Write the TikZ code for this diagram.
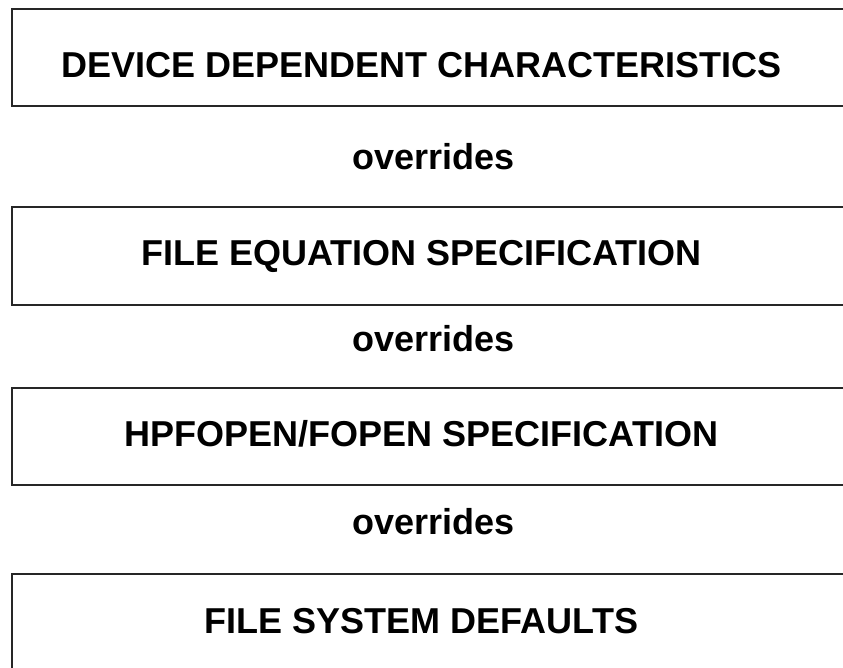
\documentclass[tikz,border=0pt]{standalone}
\usepackage{fontspec}
\setmainfont{Liberation Sans}
\begin{document}
\begin{tikzpicture}[x=1pt,y=-1pt,
  boxline/.style={draw=black!85,line width=1.3pt},
  label/.style={font=\fontsize{36}{42}\selectfont\bfseries,inner sep=0pt,anchor=base},
  verb/.style={font=\fontsize{36}{42}\selectfont\bfseries,inner sep=0pt,anchor=base}]
\useasboundingbox (0,0) rectangle (843,667);
\clip (0,0) rectangle (843,667);
\draw[boxline] (12,9) rectangle (870,106);
\draw[boxline] (12,207) rectangle (870,305);
\draw[boxline] (12,388) rectangle (870,485);
\draw[boxline] (12,574) rectangle (870,700);
\node[label] (t1) at (421.5,77) {DEVICE DEPENDENT CHARACTERISTICS};
\node[label] (t2) at (421.5,265) {FILE EQUATION SPECIFICATION};
\node[label] (t3) at (421.5,446.5) {HPFOPEN/FOPEN SPECIFICATION};
\node[label] (t4) at (421.5,633) {FILE SYSTEM DEFAULTS};
\node[verb] (o1) at (433.5,169.5) {overrides};
\node[verb] (o2) at (433.5,351.5) {overrides};
\node[verb] (o3) at (433.5,534.5) {overrides};
\end{tikzpicture}
\end{document}
